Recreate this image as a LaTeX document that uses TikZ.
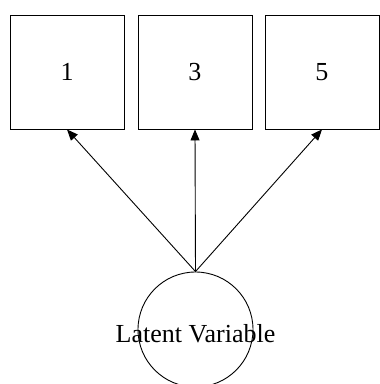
\documentclass[tikz,border=0pt]{standalone}
\usepackage{fontspec}
\setmainfont{Liberation Serif}
\usetikzlibrary{arrows.meta}
\tikzset{every path/.style={black,line width=0.9pt}, every node/.style={font=\fontsize{26}{30}\selectfont}}
\tikzset{indicator/.style={draw, minimum width=114pt, minimum height=114pt, inner sep=0pt},
         latent/.style={draw, circle, minimum size=115pt, inner sep=0pt},
         loading/.style={-{Triangle[length=11pt,width=9pt]}}}

\begin{document}
\begin{tikzpicture}[x=1pt,y=-1pt]
   \useasboundingbox (0,0) rectangle (380,384);
   \begin{scope}
    \node[indicator] (i1) at ( 67,72) {1};
    \node[indicator] (i3) at (195,72) {3};
    \node[indicator] (i5) at (322,72) {5};
   \end{scope}
   \begin{scope}
    \node[latent, label={[yshift=-4pt]center:Latent Variable}] (lv) at (195.5,329.5) {};
    \draw[loading] (lv.north) -- (i1.south);
    \draw[loading] (lv.north) -- (i3.south);
    \draw[loading] (lv.north) -- (i5.south);
   \end{scope}
  \end{tikzpicture}
\end{document}
